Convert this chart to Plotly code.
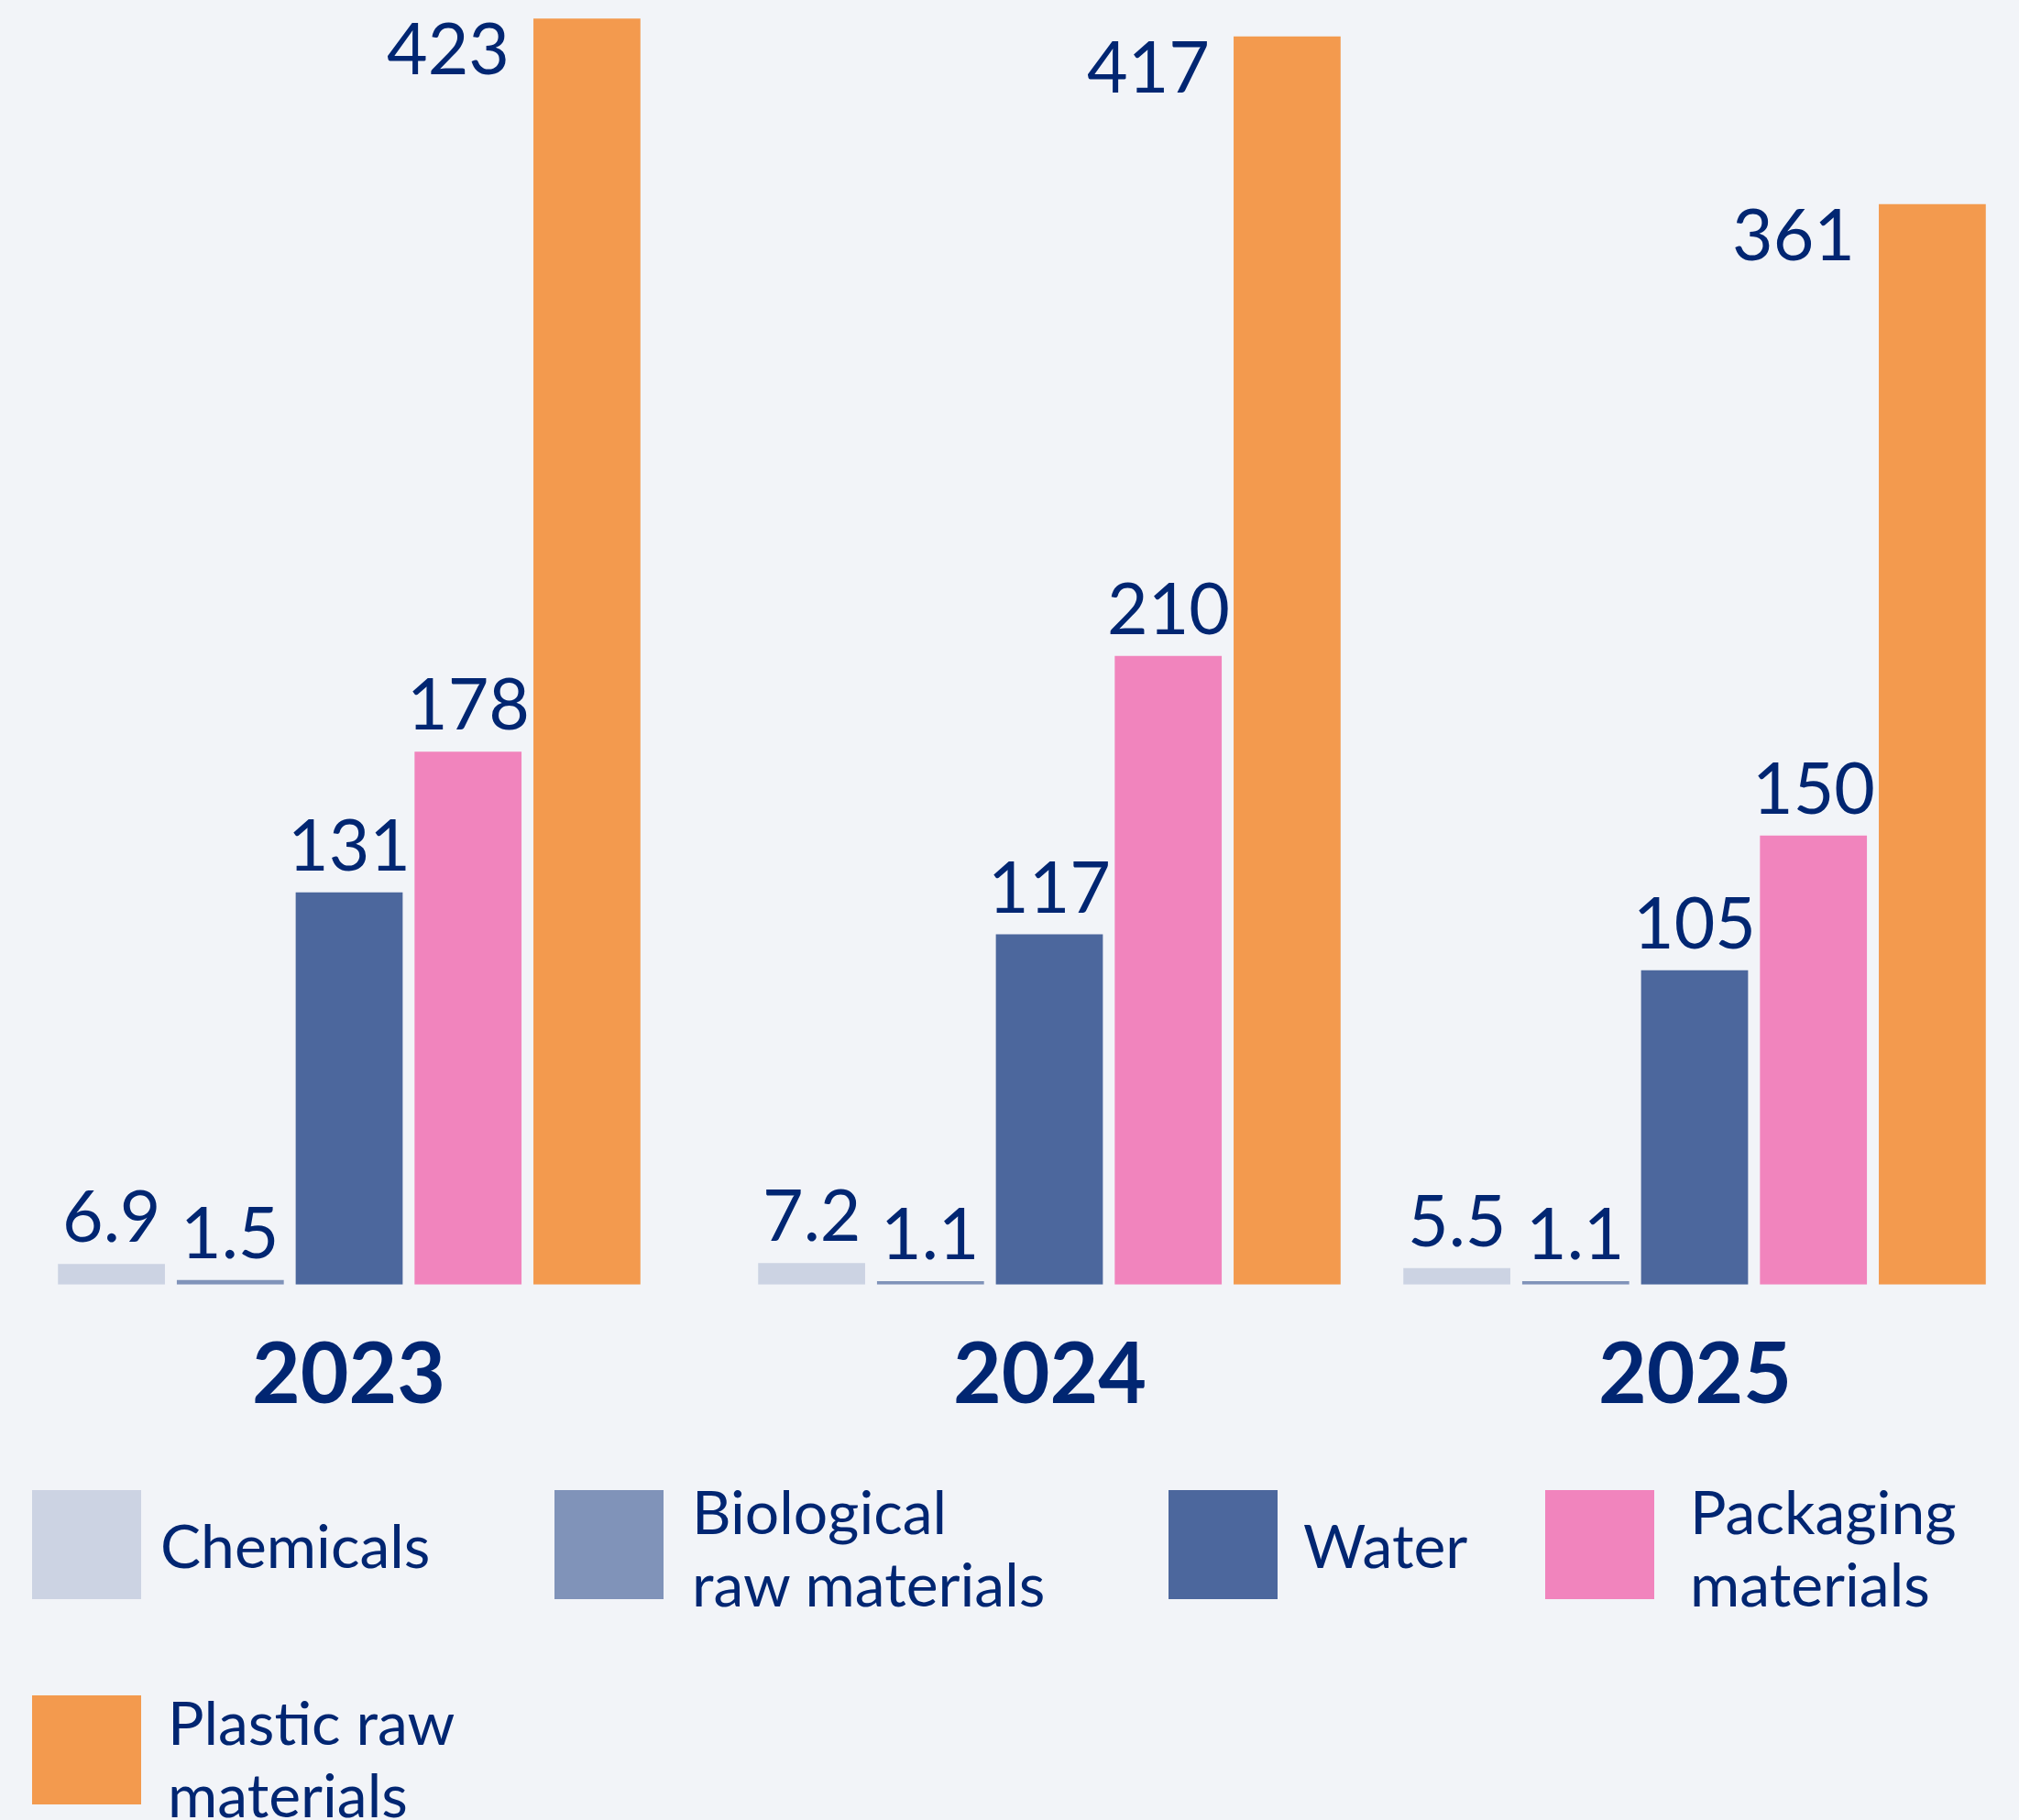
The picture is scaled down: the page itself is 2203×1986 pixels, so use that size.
import plotly.graph_objects as go

# ---------------- data ----------------
years = ["2023", "2024", "2025"]
materials = ["Chemicals", "Biological raw materials", "Water",
             "Packaging materials", "Plastic raw materials"]
legend_lines = [["Chemicals"], ["Biological", "raw materials"], ["Water"],
                ["Packaging", "materials"], ["Plastic raw", "materials"]]
chemicals = [6.9, 7.2, 5.5]
biological = [1.5, 1.1, 1.1]
water = [131, 117, 105]
packaging = [178, 210, 150]
plastic = [423, 417, 361]
series = [chemicals, biological, water, packaging, plastic]
colors = ["#CCD3E3", "#8093B9", "#4C679D", "#F184BD", "#F39A4E"]

# ---------------- style ----------------
W, H = 2203, 1986
BG = "#F2F4F8"
NAVY = "#012672"
FONT = "Lato"

def px_x(p):
    return p / W

def px_y(p):
    return 1 - p / H

baseline_px = 1401.7
ymax = baseline_px / 3.266
group_centers_px = [381, 1145, 1849]
group_width_px = 648.5
domains = [[px_x(c - group_width_px / 2), px_x(c + group_width_px / 2)]
           for c in group_centers_px]

fig = go.Figure()
annotations = []
for i, yr in enumerate(years):
    xa = "x" if i == 0 else f"x{i+1}"
    vals = [s[i] for s in series]
    fig.add_trace(go.Bar(
        x=materials, y=vals, marker=dict(color=colors, line=dict(width=0)),
        xaxis=xa, yaxis="y", showlegend=False, hoverinfo="x+y",
    ))
    for j, (m, v) in enumerate(zip(materials, vals)):
        txt = f"{v:g}"
        lab_font = dict(family=FONT, size=77, color=NAVY)
        if j == len(materials) - 1:
            annotations.append(dict(
                x=m, y=v, xref=xa, yref="y", text=txt, showarrow=False,
                xanchor="right", yanchor="top", xshift=-82, yshift=17,
                font=lab_font))
        else:
            annotations.append(dict(
                x=m, y=v, xref=xa, yref="y", text=txt, showarrow=False,
                xanchor="center", yanchor="bottom", yshift=6,
                font=lab_font))
    annotations.append(dict(
        x=0.5, y=px_y(1495), xref=f"{xa} domain", yref="paper",
        text=f"<b>{yr}</b>", showarrow=False, xanchor="center", yanchor="middle",
        font=dict(family=FONT, size=91, color=NAVY)))

# ---------------- custom legend ----------------
legend_pos = [  # swatch left, swatch top, text left, first-line cap top
    (35, 1626, 173, None), (605, 1626, 753, 1626), (1275, 1626, 1420, None),
    (1686, 1626, 1842, 1626), (35, 1850, 181, 1856)]
shapes = []
sw = 119
line_step = 79
for (sx, sy, tx, cap), lines, col in zip(legend_pos, legend_lines, colors):
    shapes.append(dict(type="rect", xref="paper", yref="paper",
                       x0=px_x(sx), x1=px_x(sx + sw), y0=px_y(sy + sw), y1=px_y(sy),
                       fillcolor=col, line=dict(width=0), layer="above"))
    leg_font = dict(family=FONT, size=66, color=NAVY)
    if len(lines) > 1:
        for k, ln in enumerate(lines):
            annotations.append(dict(
                x=px_x(tx), y=px_y(cap - 19 + k * line_step), xref="paper",
                yref="paper", text=ln, showarrow=False, xanchor="left",
                yanchor="top", align="left", font=leg_font))
    else:
        annotations.append(dict(
            x=px_x(tx), y=px_y(sy + sw / 2), xref="paper", yref="paper",
            text=lines[0], showarrow=False, xanchor="left", yanchor="middle",
            align="left", font=leg_font))

layout = dict(
    width=W, height=H, margin=dict(l=0, r=0, t=0, b=0),
    paper_bgcolor=BG, plot_bgcolor=BG, bargap=0.1,
    yaxis=dict(domain=[px_y(baseline_px), 1], range=[0, ymax], visible=False,
               fixedrange=True),
    annotations=annotations, shapes=shapes,
)
for i in range(3):
    key = "xaxis" if i == 0 else f"xaxis{i+1}"
    layout[key] = dict(domain=domains[i], visible=False, anchor="y",
                       categoryorder="array", categoryarray=materials)
fig.update_layout(**layout)
fig.write_html("out.html")
